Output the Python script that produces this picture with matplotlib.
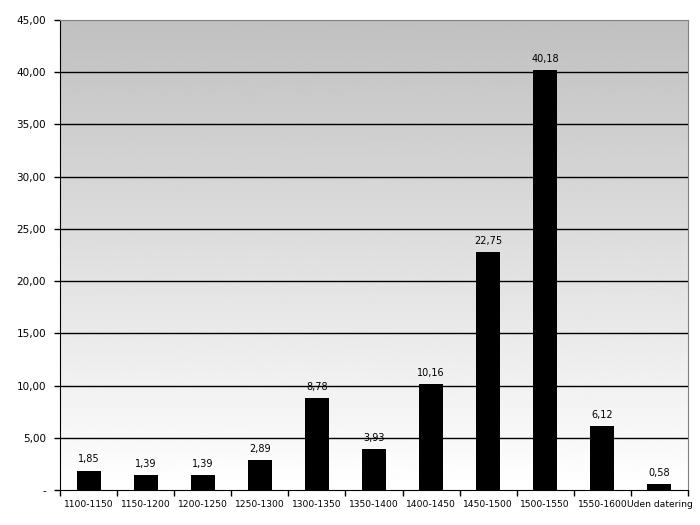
import matplotlib
matplotlib.use("Agg")
import matplotlib.pyplot as plt
import numpy as np

categories = ["1100-1150", "1150-1200", "1200-1250", "1250-1300", "1300-1350",
              "1350-1400", "1400-1450", "1450-1500", "1500-1550", "1550-1600",
              "Uden datering"]
values = [1.85, 1.39, 1.39, 2.89, 8.78, 3.93, 10.16, 22.75, 40.18, 6.12, 0.58]
yticks = [0, 5, 10, 15, 20, 25, 30, 35, 40, 45]
ytick_labels = ["-", "5,00", "10,00", "15,00", "20,00", "25,00", "30,00",
                "35,00", "40,00", "45,00"]

fig = plt.figure(figsize=(7, 5.25), dpi=100)
ax = fig.add_axes([60/700, 35/525, 628/700, 470/525])

n = len(categories)
ax.set_xlim(-0.5, n - 0.5)
ax.set_ylim(0, 45)

# gradient background
grad = np.linspace(1.0, 0.753, 256).reshape(-1, 1)
ax.imshow(grad, cmap="gray", vmin=0, vmax=1, aspect="auto",
          extent=[-0.5, n - 0.5, 0, 45], origin="lower", zorder=0)

for y in yticks[1:-1]:
    ax.axhline(y, color="black", lw=1, zorder=1)

x = np.arange(n)
ax.bar(x, values, width=0.42, color="black", zorder=2)
for xi, v in zip(x, values):
    ax.text(xi, v + 0.6, f"{v:.2f}".replace(".", ","), ha="center", va="bottom",
            fontsize=7, zorder=3)

ax.set_yticks(yticks)
ax.set_yticklabels(ytick_labels, fontsize=7.5)
ax.set_xticks(x)
ax.set_xticklabels(categories, fontsize=6.6)
ax.tick_params(axis="x", length=0, pad=7)
ax.set_xticks(np.arange(-0.5, n, 1), minor=True)
ax.tick_params(axis="x", which="minor", length=4, direction="out", width=1)
ax.tick_params(axis="y", length=4, direction="out", width=1, pad=6)

for s in ["top", "right"]:
    ax.spines[s].set_color("#808080")
ax.spines["left"].set_color("black")
ax.spines["bottom"].set_color("black")

fig.savefig("out.png", dpi=100)
